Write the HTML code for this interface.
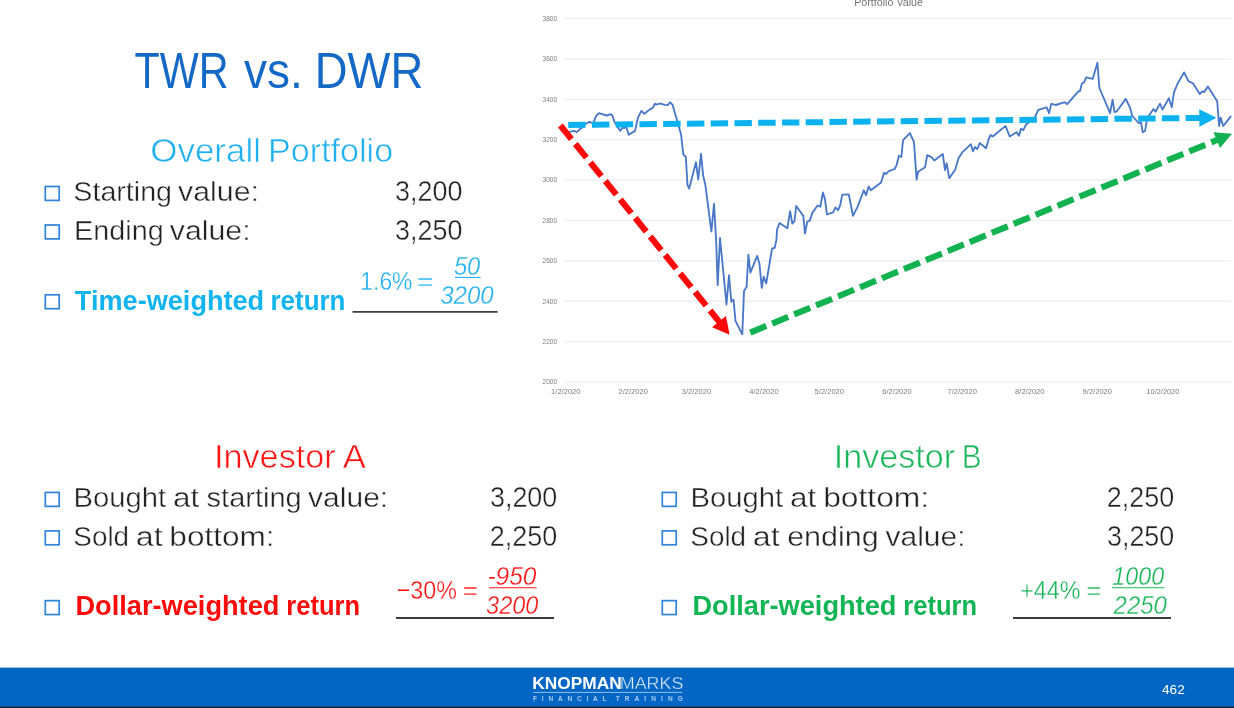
<!DOCTYPE html>
<html lang="en"><head><meta charset="utf-8"><title>TWR vs. DWR</title>
<style>
*{margin:0;padding:0;box-sizing:border-box}
html,body{width:1234px;height:708px;background:#fff;overflow:hidden}
body{position:relative;font-family:"Liberation Sans", sans-serif;}
.t{position:absolute;left:0;white-space:nowrap;line-height:1;height:1em;}
.t span{position:absolute;top:0;left:0;display:block;transform-origin:0 0;}
.chart{position:absolute;left:0;top:0;}
.chart .ct{font-family:"Liberation Sans", sans-serif;}
.deco{position:absolute;left:0;top:0;pointer-events:none;}
.slide{position:absolute;left:0;top:0;width:1234px;height:708px;overflow:hidden;background:#fff;}
.footer{position:absolute;left:0;top:667px;width:1234px;height:41px;background:linear-gradient(#9bc1e7 0,#9bc1e7 1px,#0466c4 1px,#0466c4 39px,#1a4c8c 39px,#1a4c8c 40px,#0e1e48 40px);}
</style></head>
<body>
<main class="slide">
<svg class="chart" width="1234" height="410" viewBox="0 0 1234 410">
<text x="888.6" y="6" text-anchor="middle" font-size="10.7" fill="#747474" class="ct">Portfolio Value</text>
<g stroke="#eeeeee" stroke-width="1.2" fill="none">
<line x1="564.5" y1="18.70" x2="1231.3" y2="18.70"/>
<line x1="564.5" y1="59.05" x2="1231.3" y2="59.05"/>
<line x1="564.5" y1="99.40" x2="1231.3" y2="99.40"/>
<line x1="564.5" y1="139.75" x2="1231.3" y2="139.75"/>
<line x1="564.5" y1="180.10" x2="1231.3" y2="180.10"/>
<line x1="564.5" y1="220.45" x2="1231.3" y2="220.45"/>
<line x1="564.5" y1="260.80" x2="1231.3" y2="260.80"/>
<line x1="564.5" y1="301.15" x2="1231.3" y2="301.15"/>
<line x1="564.5" y1="341.50" x2="1231.3" y2="341.50"/>
<line x1="564.5" y1="381.85" x2="1231.3" y2="381.85"/>
</g>
<g font-size="7.5" fill="#7c7c7c" class="ct">
<text x="542.5" y="21.05" textLength="14.6" lengthAdjust="spacingAndGlyphs">3800</text>
<text x="542.5" y="61.40" textLength="14.6" lengthAdjust="spacingAndGlyphs">3600</text>
<text x="542.5" y="101.75" textLength="14.6" lengthAdjust="spacingAndGlyphs">3400</text>
<text x="542.5" y="142.10" textLength="14.6" lengthAdjust="spacingAndGlyphs">3200</text>
<text x="542.5" y="182.45" textLength="14.6" lengthAdjust="spacingAndGlyphs">3000</text>
<text x="542.5" y="222.80" textLength="14.6" lengthAdjust="spacingAndGlyphs">2800</text>
<text x="542.5" y="263.15" textLength="14.6" lengthAdjust="spacingAndGlyphs">2600</text>
<text x="542.5" y="303.50" textLength="14.6" lengthAdjust="spacingAndGlyphs">2400</text>
<text x="542.5" y="343.85" textLength="14.6" lengthAdjust="spacingAndGlyphs">2200</text>
<text x="542.5" y="384.20" textLength="14.6" lengthAdjust="spacingAndGlyphs">2000</text>
</g>
<g font-size="7.9" fill="#7c7c7c" class="ct">
<text x="551.1" y="394.1" textLength="29.4" lengthAdjust="spacingAndGlyphs">1/2/2020</text>
<text x="618.5" y="394.1" textLength="29.4" lengthAdjust="spacingAndGlyphs">2/2/2020</text>
<text x="681.7" y="394.1" textLength="29.4" lengthAdjust="spacingAndGlyphs">3/2/2020</text>
<text x="749.3" y="394.1" textLength="29.4" lengthAdjust="spacingAndGlyphs">4/2/2020</text>
<text x="814.6" y="394.1" textLength="29.4" lengthAdjust="spacingAndGlyphs">5/2/2020</text>
<text x="882.3" y="394.1" textLength="29.4" lengthAdjust="spacingAndGlyphs">6/2/2020</text>
<text x="947.5" y="394.1" textLength="29.4" lengthAdjust="spacingAndGlyphs">7/2/2020</text>
<text x="1015.1" y="394.1" textLength="29.4" lengthAdjust="spacingAndGlyphs">8/2/2020</text>
<text x="1082.6" y="394.1" textLength="29.4" lengthAdjust="spacingAndGlyphs">9/2/2020</text>
<text x="1146.5" y="394.1" textLength="32.8" lengthAdjust="spacingAndGlyphs">10/2/2020</text>
</g>
<path d="M569.1,131.8 L574.0,130.9 L576.6,132.1 L581.1,128.3 L585.4,124.0 L589.4,121.9 L593.2,123.3 L596.0,116.2 L598.9,113.1 L606.7,115.5 L610.9,114.1 L612.3,115.5 L614.5,121.9 L617.3,126.2 L620.1,130.9 L622.3,128.0 L626.5,127.6 L628.7,134.7 L635.0,130.9 L637.9,117.7 L641.4,110.9 L644.3,113.8 L649.2,109.9 L652.8,107.7 L654.9,103.8 L657.0,104.5 L659.9,103.5 L664.8,104.8 L667.7,105.2 L670.2,102.3 L672.6,104.9 L674.8,112.7 L677.6,121.9 L681.1,134.7 L683.3,154.5 L685.8,156.7 L687.5,185.0 L689.2,188.6 L696.0,162.3 L698.2,179.4 L701.0,153.8 L703.1,175.1 L705.4,185.4 L711.4,231.5 L714.0,203.8 L716.1,240.0 L717.7,285.1 L720.0,238.0 L726.5,304.5 L729.0,275.2 L731.3,301.7 L733.5,299.6 L735.5,320.9 L742.3,334.3 L744.0,291.1 L746.6,286.8 L748.4,254.6 L750.4,272.6 L757.2,255.9 L759.4,263.4 L761.8,287.9 L763.6,276.6 L766.2,283.3 L772.1,248.5 L774.7,247.8 L776.4,240.0 L777.1,229.4 L779.5,223.0 L787.4,228.2 L790.1,211.2 L792.3,223.7 L794.5,221.1 L796.2,206.0 L803.3,215.9 L805.0,233.6 L807.3,221.6 L809.7,220.9 L812.3,213.0 L817.5,205.5 L820.4,206.7 L822.9,192.5 L824.9,198.9 L827.0,214.5 L833.1,212.3 L835.5,207.4 L838.1,210.2 L840.2,205.2 L842.3,194.6 L848.8,194.5 L853.0,215.8 L857.7,206.6 L863.8,190.3 L866.0,195.2 L868.7,186.5 L870.9,190.3 L881.1,182.5 L884.0,172.8 L885.7,174.0 L888.9,171.1 L894.6,169.0 L896.7,164.8 L898.9,155.8 L901.3,157.0 L903.1,140.2 L909.9,133.1 L914.0,142.1 L916.6,179.6 L918.0,171.8 L925.1,167.2 L927.2,155.2 L931.5,157.2 L934.3,160.5 L942.8,154.1 L945.0,170.0 L946.7,163.3 L949.2,178.2 L955.2,169.7 L958.4,158.4 L962.0,152.7 L970.9,144.2 L972.9,151.3 L975.0,147.0 L977.3,149.1 L979.7,143.0 L986.1,148.2 L988.7,139.0 L990.6,135.0 L992.8,136.5 L1005.5,125.9 L1009.7,136.5 L1016.6,132.3 L1019.0,135.8 L1020.9,128.7 L1023.3,130.1 L1026.1,124.5 L1034.6,118.1 L1038.2,109.9 L1046.7,107.4 L1049.1,113.1 L1051.3,103.9 L1055.9,105.0 L1064.7,102.2 L1067.2,104.2 L1077.9,91.8 L1080.0,90.9 L1081.8,83.8 L1084.3,81.9 L1086.1,77.4 L1092.8,78.8 L1097.4,62.8 L1099.4,88.0 L1110.1,113.1 L1112.6,99.6 L1114.5,112.0 L1116.9,111.3 L1125.8,98.9 L1130.2,108.2 L1132.3,116.0 L1138.6,123.0 L1141.0,122.3 L1142.7,132.3 L1145.1,130.7 L1147.3,118.1 L1153.5,109.1 L1155.5,111.7 L1160.0,103.6 L1162.5,109.6 L1168.9,98.2 L1171.8,107.2 L1173.9,92.6 L1177.4,84.0 L1184.1,72.4 L1188.4,81.2 L1193.0,83.3 L1199.7,94.0 L1202.3,91.4 L1204.0,92.1 L1207.9,86.6 L1217.2,101.3 L1219.1,126.0 L1220.6,117.6 L1223.3,126.0 L1230.6,116.6" fill="none" stroke="#4a78c8" stroke-width="1.85" stroke-linejoin="round" stroke-linecap="round"/>
<line x1="568.2" y1="125.0" x2="1200.3" y2="117.9" stroke="#0cb2f0" stroke-width="6.0" stroke-dasharray="17.45 6.3" stroke-dashoffset="0"/><polygon points="1216.5,117.8 1199.4,126.7 1199.2,109.2" fill="#0cb2f0"/>
<line x1="560.4" y1="125.5" x2="719.7" y2="322.4" stroke="#ff0a0a" stroke-width="6.2" stroke-dasharray="17.5 6.3" stroke-dashoffset="0"/><polygon points="729.6,334.7 712.0,327.3 726.0,316.0" fill="#ff0a0a"/>
<line x1="750.2" y1="332.6" x2="1217.7" y2="139.7" stroke="#12b250" stroke-width="6.2" stroke-dasharray="17.35 6.4" stroke-dashoffset="0"/><polygon points="1232.0,133.8 1220.0,148.0 1213.5,132.2" fill="#12b250"/>
</svg>
<div class="footer"></div>
<div class="t" id="title" style="top:46px;font-size:50.00px;color:#1468c6;"><span style="left:134px;transform:translateX(0.52px) scaleX(0.8261);">TWR</span> <span style="left:243px;transform:translateX(0.90px) scaleX(0.9201);">vs.</span> <span style="left:314px;transform:translateX(0.68px) scaleX(0.9090);">DWR</span></div>
<div class="t" id="h1" style="top:133px;font-size:34.07px;color:#1fb0f0;-webkit-text-stroke:0.6px #fff;"><span style="left:150px;transform:translateX(0.23px) scaleX(1.0265);">Overall</span> <span style="left:268px;transform:translateX(0.06px) scaleX(1.0012);">Portfolio</span></div>
<div class="t" id="a1" style="top:178px;font-size:27.99px;color:#222222;-webkit-text-stroke:0.4px #fff;"><span style="left:73px;transform:translateX(0.33px) scaleX(1.0235);">Starting</span> <span style="left:177px;transform:translateX(0.96px) scaleX(1.0844);">value:</span></div>
<div class="t" id="a1v" style="top:177px;font-size:29.01px;color:#222222;-webkit-text-stroke:0.4px #fff;"><span style="left:395px;transform:translateX(0.05px) scaleX(0.9279);">3,200</span></div>
<div class="t" id="a2" style="top:217px;font-size:27.99px;color:#222222;-webkit-text-stroke:0.4px #fff;"><span style="left:74px;transform:translateX(0.09px) scaleX(1.0282);">Ending</span> <span style="left:169px;transform:translateX(0.74px) scaleX(1.0833);">value:</span></div>
<div class="t" id="a2v" style="top:216px;font-size:29.01px;color:#222222;-webkit-text-stroke:0.4px #fff;"><span style="left:395px;transform:translateX(0.05px) scaleX(0.9279);">3,250</span></div>
<div class="t" id="a3" style="top:287px;font-size:27.18px;color:#12b4f0;font-weight:bold;"><span style="left:74px;transform:translateX(0.84px) scaleX(0.9980);">Time-weighted</span> <span style="left:270px;transform:translateX(0.53px) scaleX(0.9544);">return</span></div>
<div class="t" id="a3p" style="top:268px;font-size:26.26px;color:#1fb0f0;-webkit-text-stroke:0.3px #fff;"><span style="left:360px;transform:translateX(0.31px) scaleX(0.8712);">1.6%</span> <span style="left:416px;transform:translateX(0.81px) scaleX(1.0953);">=</span></div>
<div class="t" id="a3n" style="top:254px;font-size:25.83px;color:#1fb0f0;font-style:italic;-webkit-text-stroke:0.3px #fff;"><span style="left:453px;transform:translateX(0.88px) scaleX(0.9211);">50</span></div>
<div class="t" id="a3d" style="top:283px;font-size:25.83px;color:#1fb0f0;font-style:italic;-webkit-text-stroke:0.3px #fff;"><span style="left:440px;transform:translateX(0.22px) scaleX(0.9316);">3200</span></div>
<div class="t" id="h2" style="top:439px;font-size:34.07px;color:#ff1414;-webkit-text-stroke:0.6px #fff;"><span style="left:214px;transform:translateX(0.00px) scaleX(1.0040);">Investor</span> <span style="left:342px;transform:translateX(0.79px) scaleX(1.0167);">A</span></div>
<div class="t" id="b1" style="top:484px;font-size:27.99px;color:#222222;-webkit-text-stroke:0.4px #fff;"><span style="left:73px;transform:translateX(0.54px) scaleX(1.0443);">Bought</span> <span style="left:172px;transform:translateX(0.93px) scaleX(1.1238);">at</span> <span style="left:206px;transform:translateX(0.61px) scaleX(1.0366);">starting</span> <span style="left:308px;transform:translateX(0.06px) scaleX(1.0732);">value:</span></div>
<div class="t" id="b1v" style="top:483px;font-size:29.01px;color:#222222;-webkit-text-stroke:0.4px #fff;"><span style="left:489px;transform:translateX(0.97px) scaleX(0.9274);">3,200</span></div>
<div class="t" id="b2" style="top:523px;font-size:27.99px;color:#222222;-webkit-text-stroke:0.4px #fff;"><span style="left:73px;transform:translateX(0.30px) scaleX(0.9957);">Sold</span> <span style="left:135px;transform:translateX(0.76px) scaleX(1.1515);">at</span> <span style="left:169px;transform:translateX(0.35px) scaleX(1.1279);">bottom:</span></div>
<div class="t" id="b2v" style="top:522px;font-size:29.01px;color:#222222;-webkit-text-stroke:0.4px #fff;"><span style="left:489px;transform:translateX(0.83px) scaleX(0.9296);">2,250</span></div>
<div class="t" id="b3" style="top:592px;font-size:27.18px;color:#ff0a0a;font-weight:bold;"><span style="left:75px;transform:translateX(0.47px) scaleX(1.0005);">Dollar-weighted</span> <span style="left:286px;transform:translateX(0.34px) scaleX(0.9380);">return</span></div>
<div class="t" id="b3p" style="top:577px;font-size:26.26px;color:#ff1414;-webkit-text-stroke:0.3px #fff;"><span style="left:396px;transform:translateX(0.70px) scaleX(0.8867);">−30%</span> <span style="left:462px;transform:translateX(0.87px) scaleX(1.0014);">=</span></div>
<div class="t" id="b3n" style="top:564px;font-size:25.83px;color:#ff1414;font-style:italic;-webkit-text-stroke:0.3px #fff;"><span style="left:487px;transform:translateX(0.38px) scaleX(0.9475);">-950</span></div>
<div class="t" id="b3d" style="top:593px;font-size:25.83px;color:#ff1414;font-style:italic;-webkit-text-stroke:0.3px #fff;"><span style="left:486px;transform:translateX(0.10px) scaleX(0.9091);">3200</span></div>
<div class="t" id="h3" style="top:439px;font-size:34.07px;color:#1cb65a;-webkit-text-stroke:0.6px #fff;"><span style="left:833px;transform:translateX(0.83px) scaleX(1.0016);">Investor</span> <span style="left:961px;transform:translateX(0.83px) scaleX(0.8746);">B</span></div>
<div class="t" id="c1" style="top:484px;font-size:27.99px;color:#222222;-webkit-text-stroke:0.4px #fff;"><span style="left:690px;transform:translateX(0.54px) scaleX(1.0443);">Bought</span> <span style="left:789px;transform:translateX(0.93px) scaleX(1.1238);">at</span> <span style="left:823px;transform:translateX(0.13px) scaleX(1.1354);">bottom:</span></div>
<div class="t" id="c1v" style="top:483px;font-size:29.01px;color:#222222;-webkit-text-stroke:0.4px #fff;"><span style="left:1106px;transform:translateX(0.83px) scaleX(0.9296);">2,250</span></div>
<div class="t" id="c2" style="top:523px;font-size:27.99px;color:#222222;-webkit-text-stroke:0.4px #fff;"><span style="left:690px;transform:translateX(0.30px) scaleX(0.9957);">Sold</span> <span style="left:752px;transform:translateX(0.76px) scaleX(1.1515);">at</span> <span style="left:787px;transform:translateX(0.15px) scaleX(1.0892);">ending</span> <span style="left:885px;transform:translateX(0.53px) scaleX(1.0705);">value:</span></div>
<div class="t" id="c2v" style="top:522px;font-size:29.01px;color:#222222;-webkit-text-stroke:0.4px #fff;"><span style="left:1106px;transform:translateX(0.97px) scaleX(0.9274);">3,250</span></div>
<div class="t" id="c3" style="top:592px;font-size:27.18px;color:#12b454;font-weight:bold;"><span style="left:692px;transform:translateX(0.47px) scaleX(1.0005);">Dollar-weighted</span> <span style="left:903px;transform:translateX(0.34px) scaleX(0.9380);">return</span></div>
<div class="t" id="c3p" style="top:577px;font-size:26.26px;color:#1cb65a;-webkit-text-stroke:0.3px #fff;"><span style="left:1020px;transform:translateX(0.25px) scaleX(0.8853);">+44%</span> <span style="left:1086px;transform:translateX(0.54px) scaleX(0.9680);">=</span></div>
<div class="t" id="c3n" style="top:564px;font-size:25.83px;color:#1cb65a;font-style:italic;-webkit-text-stroke:0.3px #fff;"><span style="left:1112px;transform:translateX(0.32px) scaleX(0.9013);">1000</span></div>
<div class="t" id="c3d" style="top:593px;font-size:25.83px;color:#1cb65a;font-style:italic;-webkit-text-stroke:0.3px #fff;"><span style="left:1113px;transform:translateX(0.58px) scaleX(0.9290);">2250</span></div>
<div class="t" id="lg1" style="top:676px;font-size:15.63px;color:#ffffff;font-weight:bold;"><span style="left:532px;transform:translateX(0.26px) scaleX(1.1074);">KNOPMAN</span></div>
<div class="t" id="lg2" style="top:675px;font-size:16.08px;color:#e4f0fc;-webkit-text-stroke:0.35px #0466c4;"><span style="left:619px;transform:translateX(0.78px) scaleX(1.1117);">MARKS</span></div>
<div class="t" id="lg3" style="top:696px;font-size:6.54px;color:#a8cdf2;font-weight:bold;"><span style="left:532px;letter-spacing:4.80px;transform:translateX(0.98px) scaleX(1.0000);">FINANCIAL</span> <span style="left:615px;letter-spacing:5.09px;transform:translateX(0.63px) scaleX(1.0000);">TRAINING</span></div>
<div class="t" id="pg" style="top:683px;font-size:13.37px;color:#ffffff;"><span style="left:1162px;transform:translateX(0.07px) scaleX(1.0160);">462</span></div>
<svg class="deco" width="1234" height="708" viewBox="0 0 1234 708">
<g fill="none" stroke="#2f84da" stroke-width="1.7">
<rect x="45.30" y="186.50" width="13.90" height="13.90"/>
<rect x="45.30" y="225.00" width="13.90" height="13.90"/>
<rect x="45.30" y="294.80" width="13.90" height="13.90"/>
<rect x="45.30" y="492.45" width="13.90" height="13.90"/>
<rect x="45.30" y="530.90" width="13.90" height="13.90"/>
<rect x="45.30" y="600.65" width="13.90" height="13.90"/>
<rect x="662.30" y="492.45" width="13.90" height="13.90"/>
<rect x="662.30" y="530.90" width="13.90" height="13.90"/>
<rect x="662.30" y="600.65" width="13.90" height="13.90"/>
</g>
<g stroke="#3c3c3c" stroke-width="1.8">
<line x1="352.5" y1="311.9" x2="497.6" y2="311.9"/>
<line x1="396" y1="618.0" x2="554" y2="618.0"/>
<line x1="1013" y1="618.0" x2="1171" y2="618.0"/>
</g>
<line x1="455" y1="277.4" x2="480.5" y2="277.4" stroke="#1fb0f0" stroke-width="1.1"/>
<line x1="489" y1="587.8" x2="536.5" y2="587.8" stroke="#ff1414" stroke-width="1.1"/>
<line x1="1112" y1="587.8" x2="1164.5" y2="587.8" stroke="#1cb65a" stroke-width="1.1"/>
<line x1="533.4" y1="692.4" x2="682.4" y2="692.4" stroke="#8fc0f0" stroke-width="1"/>
</svg>
</main>
</body></html>
